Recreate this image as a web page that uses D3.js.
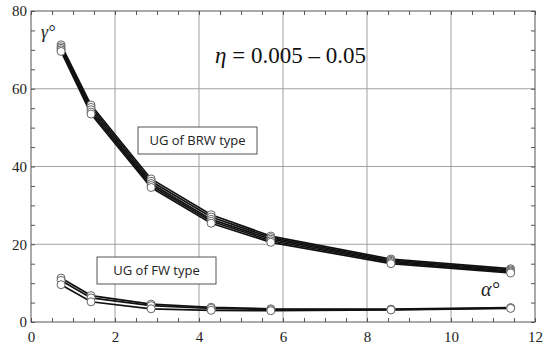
<!DOCTYPE html>
<html>
<head>
<meta charset="utf-8">
<script src="https://cdn.jsdelivr.net/npm/d3@7"></script>
<style>
  body { margin: 0; background: #fff; }
  svg { display: block; }
  .serif { font-family: 'Liberation Serif', 'DejaVu Serif', 'Times New Roman', serif; }
  .sans { font-family: 'Open Sans', 'Liberation Sans', Arial, sans-serif; }
</style>
</head>
<body>
<div id="chart"></div>
<script>
// angles alpha (deg)
const alpha = [0.716, 1.43, 2.86, 4.29, 5.71, 8.57, 11.42];

// gamma (deg) for UG of BRW type, one line per eta
const brw = [
  [71.3, 55.8, 36.8, 27.6, 22.1, 16.2, 13.7],
  [70.8, 55.2, 36.2, 27.0, 21.7, 15.9, 13.4],
  [70.4, 54.6, 35.6, 26.4, 21.3, 15.6, 13.1],
  [70.0, 54.0, 35.1, 25.9, 20.9, 15.3, 12.9],
  [69.6, 53.5, 34.6, 25.4, 20.5, 15.0, 12.6]
];

// gamma (deg) for UG of FW type
const fw = [
  [11.3, 6.8, 4.6, 3.8, 3.4, 3.3, 3.7],
  [10.7, 6.2, 4.2, 3.5, 3.2, 3.2, 3.6],
  [9.6, 5.2, 3.4, 3.0, 2.9, 3.1, 3.5]
];

const xTicks = [0, 2, 4, 6, 8, 10, 12];
const yTicks = [0, 20, 40, 60, 80];

const width = 550, height = 352;
const margin = { left: 31, right: 15, top: 11, bottom: 30 };

const svg = d3.select("#chart").append("svg")
  .attr("width", width)
  .attr("height", height);

const x = d3.scaleLinear().domain([0, 12]).range([margin.left, width - margin.right]);
const y = d3.scaleLinear().domain([0, 80]).range([height - margin.bottom, margin.top]);

// grid
svg.append("g")
  .selectAll("line")
  .data(xTicks.slice(1, -1))
  .join("line")
  .attr("x1", d => x(d)).attr("x2", d => x(d))
  .attr("y1", y(0)).attr("y2", y(80))
  .attr("stroke", "#a0a0a0").attr("stroke-width", 1);
svg.append("g")
  .selectAll("line")
  .data(yTicks.slice(1, -1))
  .join("line")
  .attr("x1", x(0)).attr("x2", x(12))
  .attr("y1", d => y(d)).attr("y2", d => y(d))
  .attr("stroke", "#a0a0a0").attr("stroke-width", 1);

// axes with inward minor ticks
const minorX = d3.range(0, 12.01, 0.5);
const minorY = d3.range(0, 80.01, 5);
const axisStyle = g => {
  g.select(".domain").remove();
  g.selectAll("line").attr("stroke", "#555");
};

svg.append("g")
  .attr("transform", `translate(0,${y(0)})`)
  .call(d3.axisBottom(x).tickValues(minorX).tickSize(-4).tickFormat(""))
  .call(axisStyle);
svg.append("g")
  .attr("transform", `translate(0,${y(80)})`)
  .call(d3.axisTop(x).tickValues(minorX).tickSize(-4).tickFormat(""))
  .call(axisStyle);
svg.append("g")
  .attr("transform", `translate(${x(0)},0)`)
  .call(d3.axisLeft(y).tickValues(minorY).tickSize(-4).tickFormat(""))
  .call(axisStyle);
svg.append("g")
  .attr("transform", `translate(${x(12)},0)`)
  .call(d3.axisRight(y).tickValues(minorY).tickSize(-4).tickFormat(""))
  .call(axisStyle);

// tick labels
svg.append("g")
  .attr("transform", `translate(0,${y(0)})`)
  .call(d3.axisBottom(x).tickValues(xTicks).tickSize(0).tickPadding(9).tickFormat(d3.format("d")))
  .call(g => g.select(".domain").remove())
  .call(g => g.attr("font-family", null).attr("font-size", null))
  .selectAll("text")
  .attr("class", "serif")
  .style("font-size", "15px")
  .attr("fill", "#222");
svg.append("g")
  .attr("transform", `translate(${x(0)},0)`)
  .call(d3.axisLeft(y).tickValues(yTicks).tickSize(0).tickPadding(4).tickFormat(d3.format("d")))
  .call(g => g.select(".domain").remove())
  .call(g => g.attr("font-family", null).attr("font-size", null))
  .selectAll("text")
  .attr("class", "serif")
  .style("font-size", "15px")
  .attr("fill", "#222");

// frame
svg.append("rect")
  .attr("x", x(0)).attr("y", y(80))
  .attr("width", x(12) - x(0)).attr("height", y(0) - y(80))
  .attr("fill", "none").attr("stroke", "#555").attr("stroke-width", 1);

// lines
const line = d3.line().x((d, i) => x(alpha[i])).y(d => y(d));
const allSeries = brw.concat(fw);

svg.append("g")
  .selectAll("path")
  .data(allSeries)
  .join("path")
  .attr("d", line)
  .attr("fill", "none")
  .attr("stroke", "#111")
  .attr("stroke-width", 1.7);

// markers
allSeries.forEach(s => {
  svg.append("g")
    .selectAll("circle")
    .data(s)
    .join("circle")
    .attr("cx", (d, i) => x(alpha[i]))
    .attr("cy", d => y(d))
    .attr("r", 4)
    .attr("fill", "#fff")
    .attr("stroke", "#666")
    .attr("stroke-width", 1);
});

// labels
svg.append("text")
  .attr("class", "serif")
  .attr("x", 41).attr("y", 38)
  .style("font-style", "italic")
  .style("font-size", "18px")
  .attr("fill", "#222")
  .text("γ°");

svg.append("text")
  .attr("class", "serif")
  .attr("x", 481).attr("y", 296)
  .style("font-style", "italic")
  .style("font-size", "20px")
  .attr("fill", "#222")
  .text("α°");

svg.append("text")
  .attr("class", "serif")
  .attr("x", 215).attr("y", 63)
  .style("font-size", "23px")
  .attr("fill", "#111")
  .html('<tspan font-style="italic">η</tspan> = 0.005 – 0.05');

function labelBox(x0, y0, w, h, txt) {
  svg.append("rect")
    .attr("x", x0).attr("y", y0).attr("width", w).attr("height", h)
    .attr("fill", "#fff").attr("stroke", "#555").attr("stroke-width", 1);
  svg.append("text")
    .attr("class", "sans")
    .attr("x", x0 + w / 2).attr("y", y0 + h / 2 + 4.5)
    .attr("text-anchor", "middle")
    .style("font-size", "13px")
    .attr("fill", "#222")
    .text(txt);
}
labelBox(138, 127, 119, 27, "UG of BRW type");
labelBox(97, 257, 119, 27, "UG of FW type");
</script>
</body>
</html>
